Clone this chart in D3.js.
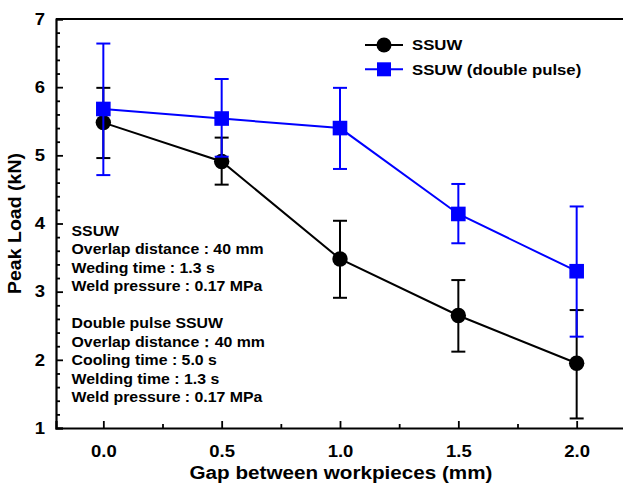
<!DOCTYPE html>
<html><head><meta charset="utf-8">
<script src="https://cdn.jsdelivr.net/npm/d3@7"></script>
<style>body{margin:0;background:#fff}svg{display:block}text{font-family:"Liberation Sans",Arial,sans-serif;font-weight:bold}</style>
</head><body><svg id="c" width="623" height="484"></svg>
<script>
const gaps = [0.0, 0.5, 1.0, 1.5, 2.0];
const ssuwMean = [5.48, 4.91, 3.48, 2.65, 1.95];
const ssuwLow  = [4.96, 4.57, 2.91, 2.12, 1.14];
const ssuwHigh = [5.99, 5.26, 4.04, 3.17, 2.73];
const dpMean = [5.68, 5.54, 5.40, 4.14, 3.30];
const dpLow  = [4.71, 4.98, 4.80, 3.71, 2.34];
const dpHigh = [6.64, 6.12, 5.99, 4.58, 4.25];
const xTicks = [0.0, 0.5, 1.0, 1.5, 2.0];
const yTicks = [1, 2, 3, 4, 5, 6, 7];
const legendLabels = ["SSUW", "SSUW (double pulse)"];
const noteLines = ["SSUW", "Overlap distance : 40 mm", "Weding time : 1.3 s", "Weld pressure : 0.17 MPa", "",
  "Double pulse SSUW", "Overlap distance：40 mm", "Cooling time : 5.0 s", "Welding time : 1.3 s", "Weld pressure : 0.17 MPa"];

const svg = d3.select("#c");
const L = 56, R = 624, T = 19, B = 428;
const x = d3.scaleLinear().domain([-0.2, 2.2]).range([L, R]);
const y = d3.scaleLinear().domain([1, 7]).range([B, T]);

function stretch(sel, f) {
  sel.each(function () {
    const w = this.getComputedTextLength();
    d3.select(this).attr("textLength", w * f).attr("lengthAdjust", "spacingAndGlyphs");
  });
}

// frame
svg.append("line").attr("x1", L).attr("x2", R).attr("y1", T).attr("y2", T).attr("stroke", "#000").attr("stroke-width", 2);
svg.append("line").attr("x1", R).attr("x2", R).attr("y1", T).attr("y2", B).attr("stroke", "#000").attr("stroke-width", 2);

// axes with inward ticks
const xAxis = d3.axisBottom(x).tickValues(xTicks).tickSize(-7).tickPadding(17).tickFormat(d3.format(".1f"));
const gx = svg.append("g").attr("transform", `translate(0,${B})`).call(xAxis);
svg.append("g").attr("transform", `translate(0,${B})`)
  .call(d3.axisBottom(x).tickValues([0.25, 0.75, 1.25, 1.75]).tickSize(-4).tickFormat(""))
  .select(".domain").remove();
const yAxis = d3.axisLeft(y).tickValues(yTicks).tickSize(-7).tickPadding(11).tickFormat(d3.format("d"));
const gy = svg.append("g").attr("transform", `translate(${L},0)`).call(yAxis);
const yMinorVals = d3.range(1, 7.001, 0.2).filter(v => Math.abs(v - Math.round(v)) > 0.01);
svg.append("g").attr("transform", `translate(${L},0)`)
  .call(d3.axisLeft(y).tickValues(yMinorVals).tickSize(-4).tickFormat(""))
  .select(".domain").remove();
svg.selectAll(".domain").attr("stroke-width", 2.2);
svg.selectAll(".tick line").attr("stroke-width", 1.8);
svg.selectAll(".tick text").attr("font-size", 16.5).attr("fill", "#000");
gx.selectAll(".tick text").attr("dy", "0.71em");
stretch(svg.selectAll(".tick text"), 1.12);

// titles
svg.append("text").attr("x", 341).attr("y", 479).attr("text-anchor", "middle").attr("font-size", 17.5)
  .text("Gap between workpieces (mm)").call(s => stretch(s, 1.18));
svg.append("text").attr("transform", `translate(21,${(T + B) / 2}) rotate(-90)`).attr("text-anchor", "middle").attr("font-size", 18.5)
  .text("Peak Load (kN)").call(s => { const w = s.node().getComputedTextLength(); s.attr("textLength", 141).attr("lengthAdjust", "spacingAndGlyphs"); });

function series(mean, low, high, color, shape) {
  const g = svg.append("g");
  const line = d3.line().x((d, i) => x(gaps[i])).y(d => y(d));
  g.append("path").datum(mean).attr("d", line).attr("fill", "none").attr("stroke", color).attr("stroke-width", 2);
  gaps.forEach((gv, i) => {
    const cx = x(gv);
    g.append("line").attr("x1", cx).attr("x2", cx).attr("y1", y(low[i])).attr("y2", y(high[i])).attr("stroke", color).attr("stroke-width", 2);
    [low[i], high[i]].forEach(v => g.append("line").attr("x1", cx - 7).attr("x2", cx + 7).attr("y1", y(v)).attr("y2", y(v)).attr("stroke", color).attr("stroke-width", 2));
  });
  gaps.forEach((gv, i) => {
    if (shape === "circle") g.append("circle").attr("cx", x(gv)).attr("cy", y(mean[i])).attr("r", 7.7).attr("fill", color);
    else g.append("rect").attr("x", x(gv) - 7.3).attr("y", y(mean[i]) - 7.3).attr("width", 14.6).attr("height", 14.6).attr("fill", color);
  });
}
series(ssuwMean, ssuwLow, ssuwHigh, "#000", "circle");
series(dpMean, dpLow, dpHigh, "#0000ff", "rect");

// legend
const leg = [{c: "#000", s: "circle"}, {c: "#0000ff", s: "rect"}];
leg.forEach((d, i) => {
  const ly = 45 + i * 24.3;
  svg.append("line").attr("x1", 365).attr("x2", 403).attr("y1", ly).attr("y2", ly).attr("stroke", d.c).attr("stroke-width", 2);
  if (d.s === "circle") svg.append("circle").attr("cx", 384).attr("cy", ly).attr("r", 7.5).attr("fill", d.c);
  else svg.append("rect").attr("x", 377).attr("y", ly - 7).attr("width", 14).attr("height", 14).attr("fill", d.c);
  svg.append("text").attr("x", 412).attr("y", ly).attr("dy", "0.35em").attr("font-size", 15.5).text(legendLabels[i]).call(s => stretch(s, 1.08));
});

// notes
const noteY = [231, 249, 267.5, 286, 0, 323, 342, 360, 378.5, 397];
noteLines.forEach((t, i) => {
  if (!t) return;
  svg.append("text").attr("x", 71.5).attr("y", noteY[i]).attr("dy", "0.35em").attr("font-size", 15.4).text(t).call(s => stretch(s, 1.03));
});
</script></body></html>
